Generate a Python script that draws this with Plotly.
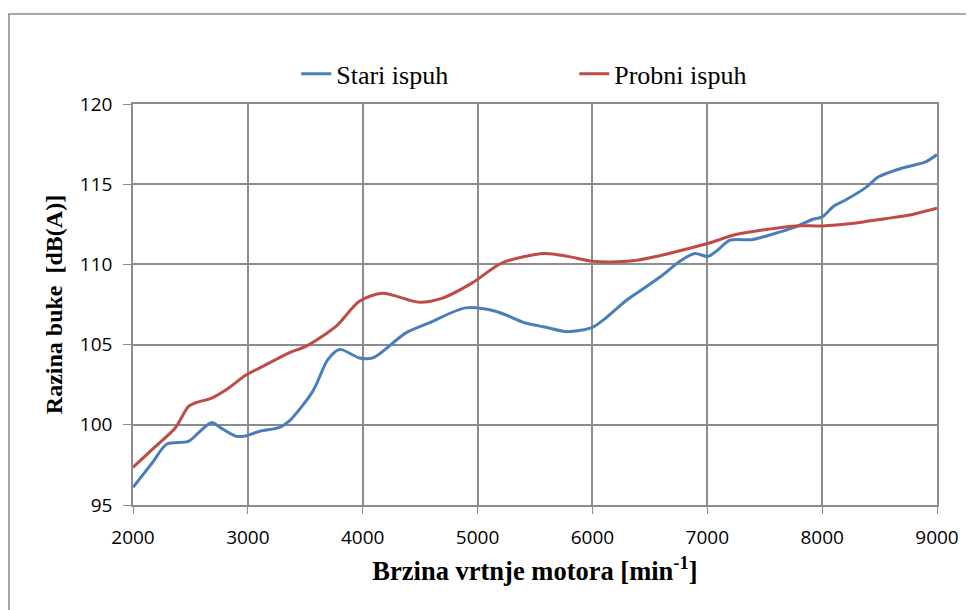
import plotly.graph_objects as go

# Stari ispuh (old exhaust)
rpm_stari = [2000, 2165, 2295, 2483, 2584, 2685, 2757, 2902, 2988, 3104, 3277, 3364,
             3566, 3696, 3798, 3971, 4087, 4376, 4578, 4896, 5156, 5416, 5583, 5784,
             6000, 6100, 6302, 6474, 6618, 6761, 6891, 7006, 7092, 7193, 7394, 7537,
             7770, 7914, 8000, 8100, 8200, 8376, 8491, 8693, 8894, 9000]
db_stari = [96.1, 97.6, 98.8, 98.97, 99.6, 100.15, 99.84, 99.28, 99.32, 99.6, 99.84, 100.26,
            102.1, 104.06, 104.7, 104.17, 104.17, 105.73, 106.35, 107.29, 107.08, 106.35, 106.1, 105.8,
            106.08, 106.56, 107.8, 108.64, 109.37, 110.2, 110.68, 110.5, 110.9, 111.5, 111.55, 111.82,
            112.34, 112.8, 112.96, 113.63, 114.0, 114.77, 115.46, 116.0, 116.37, 116.85]

# Probni ispuh (test exhaust)
rpm_probni = [2000, 2180, 2367, 2483, 2540, 2685, 2815, 2983, 3104, 3364, 3509, 3769,
              3971, 4173, 4491, 4694, 4954, 5214, 5583, 5784, 6000, 6215, 6388, 6675,
              7000, 7250, 7537, 7770, 8000, 8260, 8547, 8776, 9000]
db_probni = [97.35, 98.55, 99.8, 101.15, 101.36, 101.67, 102.2, 103.1, 103.55, 104.5, 104.9, 106.15,
             107.7, 108.2, 107.64, 107.9, 108.85, 110.1, 110.68, 110.5, 110.2, 110.16, 110.26, 110.7,
             111.3, 111.86, 112.2, 112.4, 112.4, 112.55, 112.85, 113.1, 113.5]

x_ticks = [2000, 3000, 4000, 5000, 6000, 7000, 8000, 9000]
y_ticks = [95, 100, 105, 110, 115, 120]

fig = go.Figure()
fig.add_trace(go.Scatter(x=rpm_stari, y=db_stari, mode="lines", name="Stari ispuh",
                         line=dict(color="#4A7EBB", width=3, shape="spline", smoothing=0.8)))
fig.add_trace(go.Scatter(x=rpm_probni, y=db_probni, mode="lines", name="Probni ispuh",
                         line=dict(color="#BE4B48", width=3, shape="spline", smoothing=0.8)))

grid = "#8C8C8C"
tickfont = dict(family="Open Sans", size=19, color="#000")
fig.update_layout(
    width=966, height=602,
    margin=dict(l=125, r=37, t=96, b=105),
    paper_bgcolor="white", plot_bgcolor="white",
    showlegend=True,
    legend=dict(orientation="h", x=0.203, y=1.075, xanchor="left", yanchor="middle",
                font=dict(family="Liberation Serif", size=26, color="#000"),
                entrywidth=233, entrywidthmode="pixels",
                traceorder="normal", bgcolor="rgba(0,0,0,0)"),
    xaxis=dict(range=[2000, 9000], tickvals=x_ticks, ticktext=[str(v) for v in x_ticks],
               showgrid=True, gridcolor=grid, gridwidth=1.5,
               showline=True, linecolor=grid, linewidth=1.5, mirror=True,
               ticks="outside", ticklen=7, tickcolor=grid, zeroline=False,
               tickfont=tickfont, ticklabelstandoff=7,
               title=dict(text="Brzina vrtnje motora [min<sup>-1</sup>]", standoff=13,
                          font=dict(family="Liberation Serif", size=26.5, color="#000", weight="bold"))),
    yaxis=dict(range=[95, 120], tickvals=y_ticks, ticktext=[str(v) for v in y_ticks],
               showgrid=True, gridcolor=grid, gridwidth=1.5,
               showline=True, linecolor=grid, linewidth=1.5, mirror=True,
               ticks="outside", ticklen=8, tickcolor=grid, zeroline=False,
               tickfont=tickfont, ticklabelstandoff=7,
               title=dict(text="Razina buke  [dB(A)]", standoff=10,
                          font=dict(family="Liberation Serif", size=24, color="#000", weight="bold"))),
    shapes=[dict(type="rect", xref="paper", yref="paper", x0=-0.1543, x1=1.2, y0=-0.4, y1=1.2244,
                 line=dict(color="#8C8C8C", width=1.5), fillcolor="rgba(0,0,0,0)", layer="below")],
)

fig.write_html("out.html")
